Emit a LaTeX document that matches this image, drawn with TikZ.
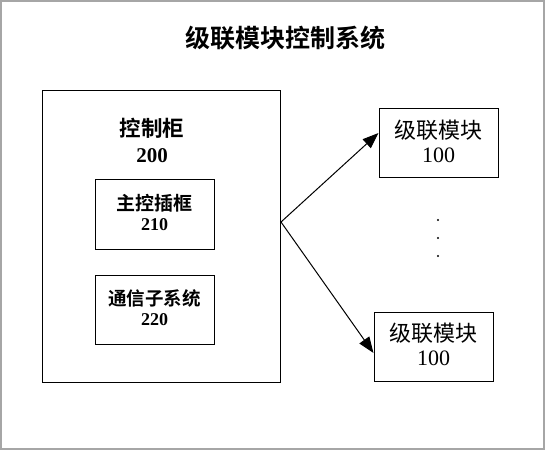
\documentclass[tikz,border=0pt]{standalone}
\usepackage{fontspec}
\setmainfont{Liberation Serif}
\newfontfamily\cjk{Noto Sans CJK SC}
\newfontfamily\cjkb{Noto Sans CJK SC Bold}
\usetikzlibrary{arrows.meta}
\begin{document}
\begin{tikzpicture}[x=1pt,y=-1pt,
  box/.style={draw, line width=1pt, inner sep=0pt},
  lbl/.style={align=center, inner sep=0pt},
  conn/.style={line width=1pt, -{Triangle[length=16pt,width=12pt]}}]
\useasboundingbox (0,0) rectangle (545,450);
\draw[gray!70, line width=1.5pt] (1,1) rectangle (544,449);
\node[lbl] (title) at (285,38) {\fontsize{25pt}{27pt}\cjkb 级联模块控制系统};
\node[box, minimum width=238pt, minimum height=292pt] (cab) at (161,236) {};
\node[lbl] (cabt) at (152,128) {\fontsize{21.5pt}{23pt}\cjkb 控制柜};
\node[lbl] (cabn) at (152,156) {\fontsize{21pt}{22pt}\bfseries 200};
\node[box, minimum width=119pt, minimum height=70pt] (mc) at (154.5,214) {};
\node[lbl] (mct) at (154.5,203) {\fontsize{19pt}{20pt}\cjkb 主控插框};
\node[lbl] (mcn) at (154.5,225) {\fontsize{18pt}{19pt}\bfseries 210};
\node[box, minimum width=119pt, minimum height=69pt] (cs) at (154.5,309.5) {};
\node[lbl] (cst) at (154.5,298) {\fontsize{18.5pt}{20pt}\cjkb 通信子系统};
\node[lbl] (csn) at (154.5,320) {\fontsize{18pt}{19pt}\bfseries 220};
\node[box, minimum width=119pt, minimum height=69pt] (m1) at (438.5,142.5) {};
\node[lbl] (m1t) at (438.5,130) {\fontsize{22pt}{24pt}\cjk 级联模块};
\node[lbl] (m1n) at (438.5,155) {\fontsize{22pt}{24pt}\selectfont 100};
\node[box, minimum width=119pt, minimum height=69pt] (m2) at (433.5,346.5) {};
\node[lbl] (m2t) at (433.5,333) {\fontsize{22pt}{24pt}\cjk 级联模块};
\node[lbl] (m2n) at (433.5,358) {\fontsize{22pt}{24pt}\selectfont 100};
\coordinate (src) at (281,222);
\draw[conn] (src) -- (m1.west |- 0,133);
\draw[conn] (src) -- (m2.west |- 0,353);
\foreach \yy/\nm in {220/d1,238/d2,256/d3}
  \fill (438,\yy) circle (1.1pt) coordinate (\nm);
\end{tikzpicture}
\end{document}
